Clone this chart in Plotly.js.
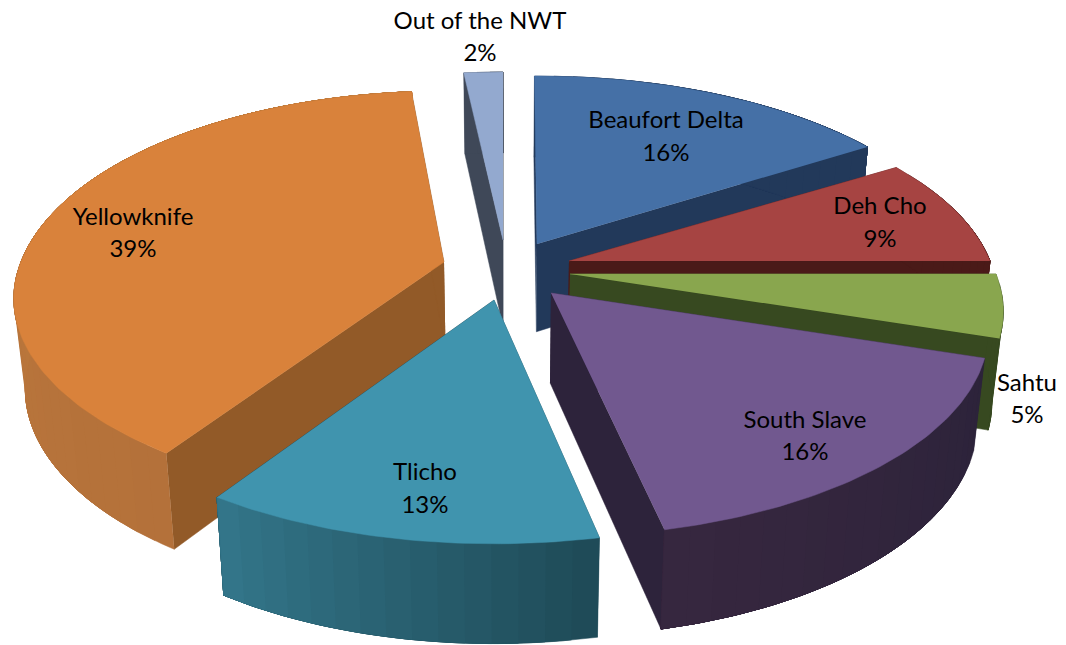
<!DOCTYPE html>
<html>
<head>
<meta charset="utf-8">
<script src="https://cdn.plot.ly/plotly-3.0.1.min.js"></script>
<style>html,body{margin:0;padding:0;background:#fff}#chart{width:1066px;height:645px}</style>
</head>
<body>
<div id="chart"></div>
<script>
// ---- data ----
const categories = ["Beaufort Delta", "Deh Cho", "Sahtu", "South Slave", "Tlicho", "Yellowknife", "Out of the NWT"];
const shares = [16, 9, 5, 16, 13, 39, 2];

// ---- styles ----
const topColors = ["#4570A6", "#A64442", "#89A64E", "#71588F", "#4094AE", "#D9823B", "#93A9CF"];
const cutColors = ["#22395A", "#4A1A18", "#374920", "#2D233B", "#1F4B58", "#925A28", "#3F4858"];
const wallFrom = ["#22395A", "#4A1A18", "#374920", "#2C233A", "#1F4B58", "#B4713A", "#3F4858"];
const wallTo = ["#22395A", "#4A1A18", "#374920", "#37273F", "#34788C", "#C27E3E", "#3F4858"];

// ---- 3D pie geometry (axis units equal pixels) ----
const apexX = [537, 569, 570, 551, 494, 444, 503];
const apexY = [244, 261, 274, 293, 300, 262, 240];
const radii = [430, 421, 426, 430, 430, 423, 430];
const trimStart = [-0.4, 0.7, 0, 0, 2.8, 1.5, 1];
const trimEnd = [0, 0, 0, 1.9, 0.6, 2, 0];
const tiltBack = [0.4626, 0.4626, 0.4626, 0.4626, 0.4626, 0.477, 0.4626];
const paintOrder = [6, 0, 1, 2, 5, 4, 3];
const viewDist = 2335, tilt = 0.4626, vanishX = 510, bottomShrink = 0.977;

// ---- labels ----
const labelX = [666, 880, 1027, 805, 425, 133, 480];
const nameY = [122, 208, 385, 422, 474, 219, 23];
const pctY = [155, 241, 417, 454, 507, 251, 55];

const total = shares.reduce((a, b) => a + b, 0);
const rad = d => d * Math.PI / 180;

function rim(i, deg) {
  const x = radii[i] * Math.sin(rad(deg));
  const y = -radii[i] * Math.cos(rad(deg));
  const k = viewDist / (viewDist - y);
  return [apexX[i] + x * k, apexY[i] + (y < 0 ? tiltBack[i] : tilt) * y * k];
}
function drop(p) {
  return [vanishX + (p[0] - vanishX) * bottomShrink, p[1] + 78 + 0.04 * p[1]];
}
function hex(c) { return [1, 3, 5].map(j => parseInt(c.substr(j, 2), 16)); }
function mix(a, b, f) {
  const A = hex(a), B = hex(b);
  return "rgb(" + A.map((v, j) => Math.round(v + (B[j] - v) * f)).join(",") + ")";
}
function poly(pts, color, w) {
  return {
    type: "scatter", mode: "lines", fill: "toself", fillcolor: color,
    x: pts.map(p => p[0]), y: pts.map(p => p[1]),
    line: { color: color, width: w }, hoverinfo: "skip", showlegend: false
  };
}

const traces = [];
const starts = [];
shares.reduce((acc, v, i) => { starts[i] = acc; return acc + v; }, 0);

paintOrder.forEach(i => {
  const a0 = starts[i] / total * 360 + trimStart[i];
  const a1 = (starts[i] + shares[i]) / total * 360 + trimEnd[i];
  const apex = [apexX[i], apexY[i]];
  const pA = rim(i, a0), pB = rim(i, a1);
  // cut faces
  traces.push(poly([apex, pA, drop(pA), drop(apex)], cutColors[i], 0.5));
  traces.push(poly([apex, pB, drop(pB), drop(apex)], cutColors[i], 0.5));
  // outer wall: each band runs on to the slice's end, so bands leave no seams
  const n = Math.max(3, Math.round((a1 - a0) / 3));
  const fine = Math.max(12, Math.round(a1 - a0));
  for (let s = 0; s < n; s++) {
    const d0 = a0 + (a1 - a0) * s / n;
    const upper = [], lower = [];
    for (let q = 0; q <= fine; q++) {
      const p = rim(i, d0 + (a1 - d0) * q / fine);
      upper.push(p);
      lower.unshift(drop(p));
    }
    traces.push(poly(upper.concat(lower), mix(wallFrom[i], wallTo[i], s / n), 0.5));
  }
  // top face
  const top = [apex];
  const m = Math.max(8, Math.round(a1 - a0));
  for (let s = 0; s <= m; s++) top.push(rim(i, a0 + (a1 - a0) * s / m));
  traces.push(poly(top, topColors[i], 0.5));
});

const font = { family: "Lato, Carlito, sans-serif", size: 24, color: "#000" };
traces.push({
  type: "scatter", mode: "text", x: labelX, y: nameY, text: categories,
  textposition: "middle center", textfont: font, hoverinfo: "skip", showlegend: false, cliponaxis: false
});
traces.push({
  type: "scatter", mode: "text", x: labelX, y: pctY, text: shares.map(v => v + "%"),
  textposition: "middle center", textfont: font, hoverinfo: "skip", showlegend: false, cliponaxis: false
});

const hiddenAxis = { visible: false, showgrid: false, zeroline: false, fixedrange: true };
Plotly.newPlot("chart", traces, {
  width: 1066, height: 645, margin: { l: 0, r: 0, t: 0, b: 0 },
  paper_bgcolor: "#fff", plot_bgcolor: "#fff", showlegend: false,
  xaxis: Object.assign({ range: [0, 1066] }, hiddenAxis),
  yaxis: Object.assign({ range: [645, 0] }, hiddenAxis)
}, { displayModeBar: false, staticPlot: true });
</script>
</body>
</html>
